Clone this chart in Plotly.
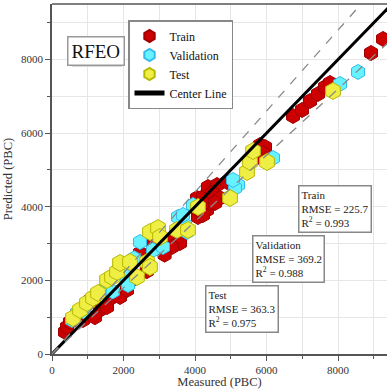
import plotly.graph_objects as go

# ---- data ----
train_measured = [364, 420, 503, 867, 1063, 1343, 1538, 1706, 1902, 2098, 2461, 2825, 3384, 3580,
                  4084, 4335, 4419, 4000, 4223, 4056, 4223, 4363, 4615, 4895, 4475, 4699, 4559, 3356,
                  5818, 5958, 5902, 5706, 6741, 6993, 7217, 7441, 7636, 7776, 8923, 9259,
                  700, 1200, 2300, 2650, 3150]
train_predicted = [598, 734, 869, 924, 1467, 1196, 1277, 1549, 1549, 1739, 2744, 3016, 3097, 3016,
                   3722, 3912, 4103, 3967, 3777, 4239, 4266, 4537, 4592, 4673, 4374, 4239, 4103, 2907,
                   5679, 5624, 5461, 5325, 6467, 6630, 6875, 7065, 7255, 7364, 8179, 8560,
                   1100, 1000, 2050, 2250, 2700]

val_measured = [559, 699, 1343, 1538, 2098, 2126, 2461, 2825, 3105, 3524, 3720, 3664, 3776, 3944,
                5202, 5118, 5062, 6181, 8056, 8559, 900, 1700, 2300]
val_predicted = [924, 1114, 1685, 1820, 2092, 1875, 3043, 2826, 2907, 3722, 3505, 3777, 3315, 4048,
                 4592, 4510, 4728, 5325, 7337, 7663, 1150, 1700, 2600]

test_measured = [587, 783, 979, 1147, 1287, 1538, 1678, 1818, 1902, 2182, 2377, 2657, 2741, 2741,
                 2965, 3021, 3496, 3804, 4084, 4979, 5454, 5538, 5622, 6014, 7860]
test_predicted = [978, 1196, 1386, 1522, 1657, 2011, 2092, 2228, 2472, 2500, 2092, 2500, 2364, 3315,
                  3423, 3179, 3369, 3369, 3994, 4239, 4945, 5217, 5516, 5217, 7147]

line_x = [0, 10000]
upper_ratio = 1.1
lower_ratio = 0.9

stats_names = ["Train", "Validation", "Test"]
stats_rmse = [225.7, 369.2, 363.3]
stats_r2 = [0.993, 0.988, 0.975]

# ---- figure ----
W, H = 387, 389
ML, MR, MT, MB = 52, 0, 4, 35
PW, PH = W - ML - MR, H - MT - MB
FONT = "Liberation Serif"


def px2paper(px, py):
    return (px - ML) / PW, (H - MB - py) / PH


fig = go.Figure()

fig.add_trace(go.Scatter(x=train_measured, y=train_predicted, mode="markers", name="Train",
                         marker=dict(symbol="hexagon", size=15, color="#CC0000",
                                     line=dict(color="#A00000", width=1))))
fig.add_trace(go.Scatter(x=val_measured, y=val_predicted, mode="markers", name="Validation",
                         marker=dict(symbol="hexagon", size=15, color="#66F2FF",
                                     line=dict(color="#33BBEE", width=1))))
fig.add_trace(go.Scatter(x=test_measured, y=test_predicted, mode="markers", name="Test",
                         marker=dict(symbol="hexagon", size=17, color="#EEEE44",
                                     line=dict(color="#B8B800", width=1))))
fig.add_trace(go.Scatter(x=line_x, y=line_x, mode="lines", name="Center Line",
                         line=dict(color="black", width=3)))
fig.add_trace(go.Scatter(x=line_x, y=[v * upper_ratio for v in line_x], mode="lines",
                         showlegend=False, line=dict(color="#888888", width=1.3, dash="dash")))
fig.add_trace(go.Scatter(x=line_x, y=[v * lower_ratio for v in line_x], mode="lines",
                         showlegend=False, line=dict(color="#888888", width=1.3, dash="dash")))

axis_common = dict(
    showline=True, linecolor="#555555", linewidth=1.5,
    ticks="outside", ticklen=5, tickcolor="#555555", dtick=2000, tick0=0,
    showgrid=True, gridcolor="#E6E6E6", gridwidth=1, zeroline=False,
    minor=dict(ticks="outside", ticklen=3, tickcolor="#555555", dtick=1000,
               showgrid=True, gridcolor="#E6E6E6"),
    tickfont=dict(family=FONT, size=11, color="#333333"),
)

fig.update_xaxes(range=[0, 9370], ticklabelstandoff=0,
                 title=dict(text="Measured (PBC)", standoff=0,
                            font=dict(family=FONT, size=12.5, color="#333333")), **axis_common)
fig.update_yaxes(range=[0, 9510], title=dict(text="Predicted (PBC)", standoff=6,
                 font=dict(family=FONT, size=12.5, color="#333333")), **axis_common)

shapes = []
annotations = []

# top frame line
shapes.append(dict(type="line", xref="paper", yref="paper", x0=0, x1=1, y0=1, y1=1,
                   line=dict(color="#555555", width=1.5)))


def shadow(l, t, r, b, color, off=5):
    x0, y0 = px2paper(l + off, b + off)
    x1, y1 = px2paper(r + off, t + off)
    shapes.append(dict(type="rect", xref="paper", yref="paper", x0=x0, x1=x1, y0=y0, y1=y1,
                       fillcolor=color, line=dict(width=0), layer="above"))


# RFEO label
shadow(67, 36, 117, 62, "#D8D8D8")
ax, ay = px2paper(67, 36)
annotations.append(dict(text="RFEO", xref="paper", yref="paper", x=ax, y=ay, xanchor="left",
                        yanchor="top", showarrow=False, font=dict(family=FONT, size=19, color="#111"),
                        bgcolor="white", bordercolor="#999999", borderwidth=1.5, borderpad=3))

# stat boxes
boxes = [(298, 185, 363, 227, "#C8F8FF"), (252, 235, 317, 276, "#FFFAA8"),
         (205, 285, 270, 326, "#EE9090")]
for name, rmse, r2, (l, t, r, b, col) in zip(stats_names, stats_rmse, stats_r2, boxes):
    shadow(l, t, r, b, col)
    ax, ay = px2paper(l, t)
    annotations.append(dict(
        text=f"{name}<br>RMSE = {rmse}<br>R<sup>2</sup> = {r2}",
        xref="paper", yref="paper", x=ax, y=ay, xanchor="left", yanchor="top", align="left",
        showarrow=False, font=dict(family=FONT, size=11, color="#222"),
        bgcolor="white", bordercolor="#888888", borderwidth=1.5, borderpad=2))

# legend shadow
shadow(128, 20, 222, 98, "#DDFBFF")

lx, ly = px2paper(128, 20)
fig.update_layout(
    width=W, height=H, margin=dict(l=ML, r=MR, t=MT, b=MB),
    paper_bgcolor="white", plot_bgcolor="white",
    shapes=shapes, annotations=annotations,
    legend=dict(x=lx, y=ly, xanchor="left", yanchor="top", bgcolor="white",
                bordercolor="#888888", borderwidth=1.5,
                font=dict(family=FONT, size=12, color="#111"),
                tracegroupgap=0, itemsizing="constant", itemwidth=30),
    showlegend=True,
)

fig.write_html("out.html")
